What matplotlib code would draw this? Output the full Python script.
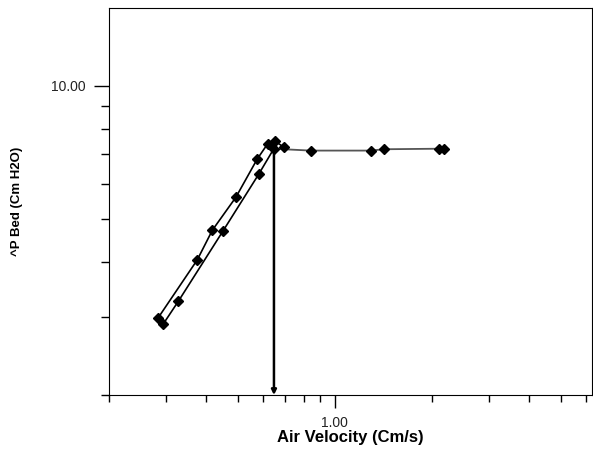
import numpy as np
import matplotlib.pyplot as plt
from matplotlib.ticker import FixedLocator, NullFormatter

plt.rcParams['font.family'] = ['Liberation Sans', 'DejaVu Sans']

# rising run (upper line), then the plateau
vel_up = [0.284, 0.375, 0.418, 0.494, 0.575, 0.619, 0.652, 0.696]
dp_up = [2.99, 4.04, 4.72, 5.60, 6.83, 7.39, 7.51, 7.26]
# plateau points
vel_flat = [0.696, 0.841, 1.292, 1.417, 2.097, 2.178]
dp_flat = [7.19, 7.14, 7.14, 7.19, 7.21, 7.19]
# falling run (lower line)
vel_dn = [0.294, 0.328, 0.450, 0.581, 0.646]
dp_dn = [2.89, 3.26, 4.69, 6.31, 7.19]
# minimum fluidisation velocity marker
u_mf = 0.648

fig = plt.figure(figsize=(5.93, 4.5), dpi=100)
ax = fig.add_axes([0.1838, 0.1222, 0.8145, 0.86])
ax.set_xscale('log')
ax.set_yscale('log')

ax.plot(vel_flat, dp_flat, color='#555555', lw=1.3, zorder=2)
ax.plot([vel_dn[-1], vel_flat[0]], [dp_dn[-1], dp_flat[0]], color='#555555', lw=1.3, zorder=2)
ax.plot(vel_up, dp_up, color='black', lw=1.2, marker='D', ms=4.8, mfc='black', mec='black', zorder=3)
ax.plot(vel_dn, dp_dn, color='black', lw=1.2, marker='D', ms=4.8, mfc='black', mec='black', zorder=3)
ax.plot(vel_flat[1:], dp_flat[1:], ls='none', marker='D', ms=4.8, color='black', zorder=3)

ax.annotate('', xy=(u_mf, 2.0), xytext=(u_mf, dp_dn[-1]),
            arrowprops=dict(arrowstyle='-|>', color='black', lw=1.8,
                            mutation_scale=7, shrinkA=0, shrinkB=0))

ax.set_xlim(0.2, 6.25)
ax.set_ylim(2, 15)

ax.xaxis.set_major_locator(FixedLocator([1.0]))
ax.xaxis.set_minor_locator(FixedLocator([0.2, 0.3, 0.4, 0.5, 0.6, 0.7, 0.8, 0.9, 2, 3, 4, 5, 6]))
ax.set_xticklabels(['1.00'])
ax.xaxis.set_minor_formatter(NullFormatter())
ax.yaxis.set_major_locator(FixedLocator([10.0]))
ax.yaxis.set_minor_locator(FixedLocator([2, 3, 4, 5, 6, 7, 8, 9]))
ax.set_yticklabels(['10.00'])
ax.yaxis.set_minor_formatter(NullFormatter())

ax.tick_params(axis='x', which='major', direction='out', length=9, width=1, labelsize=10, pad=6,
               labelcolor='#222222')
ax.tick_params(axis='x', which='minor', direction='out', length=5, width=1)
ax.tick_params(axis='y', which='major', direction='out', length=11, width=1, labelsize=10, pad=6,
               labelcolor='#222222')
ax.tick_params(axis='y', which='minor', direction='out', length=6, width=1)

ax.set_xlabel('Air Velocity (Cm/s)', fontsize=12, fontweight='bold', labelpad=0)
ax.set_ylabel('^P Bed (Cm H2O)', fontsize=9.5, fontweight='bold', labelpad=20)

fig.savefig('out.png', dpi=100)
